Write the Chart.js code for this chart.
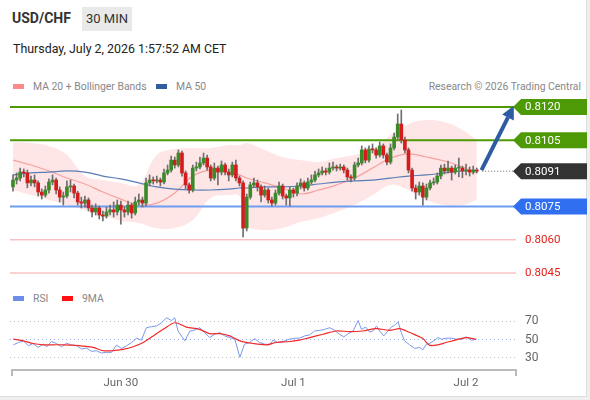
<!DOCTYPE html>
<html>
<head>
<meta charset="utf-8">
<script src="https://cdn.jsdelivr.net/npm/chart.js@4.4.0/dist/chart.umd.min.js"></script>
<style>
  html, body { margin: 0; padding: 0; background: #efefef; }
  body { width: 590px; height: 400px; position: relative; overflow: hidden; font-family: Roboto, "Liberation Sans", Arial, sans-serif; }
  #panel { position: absolute; left: 0; top: 0; width: 586px; height: 396px; background: #fff; border-right: 1px solid #ddd; border-bottom: 1px solid #ddd; }
  #pair { position: absolute; left: 12px; top: 10px; font-size: 14px; font-weight: bold; color: #333; }
  #tf { position: absolute; left: 82px; top: 7px; width: 50px; height: 24px; line-height: 24px; background: #e9e9e9; color: #333; font-size: 13px; text-align: center; }
  #date { position: absolute; left: 13px; top: 41px; font-size: 12.4px; color: #222; }
  .legend { position: absolute; font-size: 10.4px; color: #888; white-space: nowrap; }
  .sw { display: inline-block; width: 11px; height: 5px; vertical-align: middle; margin-right: 9px; position: relative; top: -1px; }
  #mainBox { position: absolute; left: 0; top: 95px; width: 590px; height: 190px; }
  #rsiBox { position: absolute; left: 0; top: 300px; width: 590px; height: 95px; }
</style>
</head>
<body>
<div id="panel">
  <div id="pair">USD/CHF</div>
  <div id="tf">30 MIN</div>
  <div id="date">Thursday, July 2, 2026 1:57:52 AM CET</div>
  <div class="legend" style="left:13px; top:80px;"><span class="sw" style="background:#ff8a8a"></span>MA 20 + Bollinger Bands</div>
  <div class="legend" style="left:156px; top:80px;"><span class="sw" style="background:#2f5ea0"></span>MA 50</div>
  <div class="legend" style="right:5px; top:80px;">Research © 2026 Trading Central</div>
  <div class="legend" style="left:13px; top:292px;"><span class="sw" style="background:#6d8ee8"></span>RSI</div>
  <div class="legend" style="left:62px; top:292px;"><span class="sw" style="background:#ff1010"></span>9MA</div>
</div>
<div id="mainBox"><canvas id="mainChart"></canvas></div>
<div id="rsiBox"><canvas id="rsiChart"></canvas></div>

<script>
// 30 min candles, index 0 = first visible bar, Jun 30 00:00 = 30, Jul 1 = 78, Jul 2 = 126
const opens = [
  0.80839,0.80870,0.80879,0.80906,0.80902,0.80857,0.80870,0.80857,0.80816,0.80802,
  0.80825,0.80861,0.80870,0.80825,0.80793,0.80798,0.80839,0.80843,0.80811,0.80771,
  0.80766,0.80780,0.80744,0.80726,0.80744,0.80712,0.80707,0.80726,0.80735,0.80726,
  0.80757,0.80735,0.80726,0.80757,0.80721,0.80771,0.80780,0.80766,0.80857,0.80870,
  0.80866,0.80870,0.80861,0.80902,0.80915,0.80960,0.80938,0.80992,0.80902,0.80848,
  0.80825,0.80924,0.80929,0.80947,0.80969,0.80929,0.80879,0.80924,0.80906,0.80938,
  0.80906,0.80893,0.80938,0.80879,0.80857,0.80653,0.80793,0.80848,0.80857,0.80839,
  0.80802,0.80825,0.80780,0.80766,0.80811,0.80843,0.80798,0.80789,0.80825,0.80811,
  0.80843,0.80857,0.80834,0.80861,0.80870,0.80893,0.80902,0.80911,0.80906,0.80924,
  0.80929,0.80924,0.80929,0.80915,0.80884,0.80879,0.80938,0.80947,0.81006,0.80960,
  0.81010,0.81006,0.80983,0.81024,0.80983,0.80951,0.81015,0.81064,0.81123,0.81051,
  0.81006,0.80915,0.80834,0.80816,0.80843,0.80793,0.80834,0.80857,0.80861,0.80888,
  0.80924,0.80911,0.80924,0.80906,0.80924,0.80924,0.80911,0.80915,0.80906,0.80915
];
const highs = [
  0.80893,0.80902,0.80924,0.80920,0.80915,0.80888,0.80893,0.80866,0.80830,0.80843,
  0.80875,0.80893,0.80879,0.80839,0.80816,0.80866,0.80870,0.80852,0.80820,0.80793,
  0.80798,0.80789,0.80757,0.80762,0.80753,0.80730,0.80748,0.80757,0.80771,0.80780,
  0.80775,0.80748,0.80775,0.80766,0.80793,0.80807,0.80793,0.80879,0.80893,0.80884,
  0.80888,0.80879,0.80920,0.80938,0.80978,0.80974,0.81006,0.81001,0.80911,0.80857,
  0.80938,0.80951,0.80974,0.80992,0.80983,0.80938,0.80947,0.80933,0.80956,0.80947,
  0.80920,0.80951,0.80960,0.80888,0.80866,0.80807,0.80861,0.80879,0.80870,0.80848,
  0.80843,0.80834,0.80793,0.80825,0.80861,0.80852,0.80807,0.80839,0.80834,0.80857,
  0.80875,0.80866,0.80879,0.80893,0.80911,0.80920,0.80929,0.80924,0.80947,0.80951,
  0.80938,0.80942,0.80938,0.80924,0.80893,0.80951,0.80969,0.81024,0.81015,0.81024,
  0.81033,0.81015,0.81042,0.81033,0.80992,0.81033,0.81082,0.81168,0.81186,0.81064,
  0.81015,0.80924,0.80848,0.80861,0.80857,0.80852,0.80870,0.80879,0.80902,0.80938,
  0.80942,0.80956,0.80933,0.80938,0.80969,0.80933,0.80942,0.80929,0.80933,0.80924
];
const lows = [
  0.80820,0.80852,0.80866,0.80884,0.80835,0.80843,0.80839,0.80798,0.80784,0.80793,
  0.80811,0.80848,0.80807,0.80771,0.80757,0.80789,0.80816,0.80789,0.80757,0.80744,
  0.80748,0.80730,0.80703,0.80712,0.80694,0.80685,0.80698,0.80712,0.80703,0.80712,
  0.80671,0.80703,0.80712,0.80698,0.80712,0.80757,0.80748,0.80753,0.80843,0.80852,
  0.80857,0.80843,0.80852,0.80893,0.80906,0.80924,0.80929,0.80888,0.80830,0.80811,
  0.80816,0.80911,0.80920,0.80938,0.80915,0.80866,0.80870,0.80848,0.80893,0.80893,
  0.80866,0.80884,0.80866,0.80843,0.80613,0.80640,0.80784,0.80839,0.80820,0.80771,
  0.80793,0.80766,0.80753,0.80757,0.80802,0.80784,0.80757,0.80753,0.80793,0.80798,
  0.80830,0.80820,0.80825,0.80852,0.80861,0.80884,0.80893,0.80893,0.80897,0.80915,
  0.80911,0.80915,0.80902,0.80870,0.80861,0.80870,0.80929,0.80938,0.80947,0.80951,
  0.80992,0.80969,0.80974,0.80969,0.80938,0.80942,0.81006,0.81055,0.81037,0.80992,
  0.80902,0.80820,0.80784,0.80802,0.80757,0.80780,0.80825,0.80848,0.80852,0.80875,
  0.80897,0.80902,0.80870,0.80897,0.80884,0.80880,0.80893,0.80888,0.80897,0.80902
];
const closes = [
  0.80870,0.80879,0.80906,0.80902,0.80857,0.80870,0.80857,0.80816,0.80802,0.80825,
  0.80861,0.80870,0.80825,0.80793,0.80798,0.80839,0.80843,0.80811,0.80771,0.80766,
  0.80780,0.80744,0.80726,0.80744,0.80712,0.80707,0.80726,0.80735,0.80726,0.80757,
  0.80735,0.80726,0.80757,0.80721,0.80771,0.80780,0.80766,0.80857,0.80870,0.80866,
  0.80870,0.80861,0.80902,0.80915,0.80960,0.80938,0.80992,0.80902,0.80848,0.80825,
  0.80924,0.80929,0.80947,0.80969,0.80929,0.80879,0.80924,0.80906,0.80938,0.80906,
  0.80893,0.80938,0.80879,0.80857,0.80653,0.80793,0.80848,0.80857,0.80839,0.80802,
  0.80825,0.80780,0.80766,0.80811,0.80843,0.80798,0.80789,0.80825,0.80811,0.80843,
  0.80857,0.80834,0.80861,0.80870,0.80893,0.80902,0.80911,0.80906,0.80924,0.80929,
  0.80924,0.80929,0.80915,0.80884,0.80879,0.80938,0.80947,0.81006,0.80960,0.81010,
  0.81006,0.80983,0.81024,0.80983,0.80951,0.81015,0.81064,0.81123,0.81051,0.81006,
  0.80915,0.80834,0.80816,0.80843,0.80793,0.80834,0.80857,0.80861,0.80888,0.80924,
  0.80911,0.80924,0.80906,0.80924,0.80924,0.80911,0.80915,0.80906,0.80915,0.80910
];

// indicator readings, sampled at these bar indices
const indIdx  = [0,5,10,15,20,25,30,35,40,45,50,55,60,63,65,70,75,80,85,90,95,100,105,110,115,120,125,129];
const ma20    = [0.80960,0.80938,0.80911,0.80879,0.80852,0.80816,0.80784,0.80757,0.80766,0.80811,0.80888,0.80915,0.80906,0.80893,
                 0.80879,0.80857,0.80834,0.80807,0.80825,0.80848,0.80879,0.80924,0.80969,0.80988,0.80974,0.80956,0.80929,0.80902];
const ma50    = [0.80893,0.80902,0.80906,0.80911,0.80906,0.80888,0.80875,0.80857,0.80839,0.80829,0.80825,0.80825,0.80829,0.80834,
                 0.80834,0.80839,0.80839,0.80843,0.80852,0.80861,0.80866,0.80870,0.80879,0.80888,0.80893,0.80902,0.80911,0.80915];
const bbUpper = [0.81042,0.81037,0.81024,0.80983,0.80888,0.80870,0.80857,0.80848,0.80983,0.81010,0.81015,0.81015,0.81028,0.81028,
                 0.81037,0.81006,0.80974,0.80960,0.80951,0.80969,0.80983,0.81006,0.81073,0.81123,0.81141,0.81132,0.81096,0.81051];
const bbLower = [0.80825,0.80802,0.80780,0.80757,0.80735,0.80712,0.80685,0.80676,0.80653,0.80653,0.80689,0.80789,0.80802,0.80798,
                 0.80667,0.80644,0.80653,0.80680,0.80698,0.80726,0.80757,0.80802,0.80848,0.80825,0.80780,0.80757,0.80757,0.80780];

const rsiIdx = [0.1,1.5,2.9,4.3,5.6,7.0,8.4,9.4,10.7,12.1,13.5,14.9,16.3,17.7,19.1,20.5,21.9,23.2,24.6,26.0,
                27.4,28.8,30.2,31.6,33.0,34.4,35.7,37.1,38.5,39.9,41.3,42.7,44.1,45.0,45.9,47.8,49.2,50.6,51.9,53.3,
                54.7,56.1,57.5,58.9,60.3,61.7,63.1,64.4,65.8,67.2,68.6,70.0,71.4,72.3,73.7,75.1,76.9,78.3,79.7,81.1,
                82.5,83.9,85.3,86.7,88.1,89.5,90.8,92.0,93.2,94.6,96.0,96.9,98.1,99.2,100.1,101.1,102.0,103.1,104.3,105.2,
                106.1,107.1,108.0,108.9,110.3,111.7,113.1,114.0,115.0,115.9,117.0,118.2,119.2,120.5,121.9,123.3,124.7,126.1,127.5,128.9];
const rsiVals = [43.8,46.4,48.2,42.8,45.3,41.0,44.6,41.7,47.5,45.3,41.7,45.7,43.5,42.8,39.2,40.3,36.7,37.4,34.9,35.6,
                 35.6,43.5,39.9,42.8,46.4,51.1,48.9,62.6,63.7,64.4,68.0,73.4,70.5,73.4,59.0,48.2,59.0,60.1,62.6,57.2,
                 51.8,55.4,57.2,53.6,51.8,50.0,30.2,44.6,46.4,50.7,46.4,44.6,43.9,48.9,46.4,47.5,50.0,51.0,51.2,53.6,
                 54.7,59.0,59.7,60.8,62.6,59.7,55.4,52.5,56.1,59.0,70.5,60.8,63.3,57.9,59.0,64.4,59.0,53.6,59.0,63.3,
                 65.1,69.1,57.2,48.2,43.9,39.9,41.0,38.5,44.6,45.3,48.2,51.8,50.0,51.1,51.1,50.0,50.0,52.5,48.9,50.0];
const rsiMaIdx  = [0.1,2.9,5.6,8.4,11.2,14.0,16.8,19.5,22.3,25.1,27.9,30.6,33.4,36.2,39.0,41.8,45.0,48.2,51.9,54.7,
                   57.5,60.3,63.1,66.8,70.5,73.2,76.9,79.7,82.5,86.2,89.9,93.6,97.3,101.0,104.7,107.5,109.4,112.1,114.0,115.8,
                   117.7,120.5,123.2,126.0,128.8];
const rsiMaVals = [50.0,48.2,45.3,43.9,43.9,43.9,43.5,42.4,41.0,37.4,37.4,38.8,41.7,46.4,53.6,60.8,68.0,63.3,60.8,56.1,
                   56.1,53.6,48.2,45.3,43.9,46.4,47.5,48.9,51.8,55.4,59.0,58.3,59.0,61.5,59.7,61.5,59.0,54.3,50.7,43.5,
                   43.5,46.4,49.3,51.8,50.0];

const resistLevels = [0.8120, 0.8105];
const supportLevels = [0.8075];
const minorLevels = [0.8060, 0.8045];
const lastPrice = 0.8091;
const targetPrice = 0.8120;

const dayTickIdx = [30, 78, 126];
const dayTickLabels = ["Jun 30", "Jul 1", "Jul 2"];
const rsiTicks = [30, 50, 70];

const X_MIN = -0.83, X_MAX = 139.9;
const GREEN = "#4d9a06", BLUE = "#2f6ff0", DARK = "#333333";
const FONT = 'Roboto, "Liberation Sans", Arial, sans-serif';

Chart.defaults.font.family = FONT;
Chart.defaults.animation = false;

function pts(xs, ys) {
  return xs.map((x, k) => ({ x: x, y: ys[k] }));
}

function levelSet(value, color, width) {
  return {
    type: "line",
    data: [{ x: X_MIN, y: value }, { x: X_MAX, y: value }],
    borderColor: color,
    borderWidth: width,
    pointRadius: 0,
    order: 12
  };
}

const candleX = closes.map((c, i) => i);

function drawTag(ctx, y, bg, text) {
  ctx.fillStyle = bg;
  ctx.beginPath();
  ctx.moveTo(513, y);
  ctx.lineTo(521, y - 8);
  ctx.lineTo(587, y - 8);
  ctx.lineTo(587, y + 8);
  ctx.lineTo(521, y + 8);
  ctx.closePath();
  ctx.fill();
  ctx.fillStyle = "#fff";
  ctx.font = "11.5px " + FONT;
  ctx.textBaseline = "middle";
  ctx.fillText(text, 525, y + 0.5);
}

const tagsPlugin = {
  id: "tags",
  afterDraw(chart) {
    const ctx = chart.ctx;
    const xs = chart.scales.x, ys = chart.scales.y;
    ctx.save();

    // dotted line from the last bar to its price tag
    const yl = ys.getPixelForValue(lastPrice);
    ctx.strokeStyle = "#666";
    ctx.lineWidth = 1;
    ctx.setLineDash([1, 2]);
    ctx.beginPath();
    ctx.moveTo(xs.getPixelForValue(130.5), yl);
    ctx.lineTo(513, yl);
    ctx.stroke();
    ctx.setLineDash([]);

    // target arrow
    const x0 = xs.getPixelForValue(130.3), y0 = ys.getPixelForValue(0.80915);
    const x1 = xs.getPixelForValue(139.3), y1 = ys.getPixelForValue(targetPrice + 0.00005);
    const ang = Math.atan2(y1 - y0, x1 - x0);
    const head = 13;
    const bx = x1 - head * Math.cos(ang), by = y1 - head * Math.sin(ang);
    ctx.strokeStyle = "#2d5ca3";
    ctx.fillStyle = "#2d5ca3";
    ctx.lineWidth = 4;
    ctx.beginPath();
    ctx.moveTo(x0, y0);
    ctx.lineTo(bx, by);
    ctx.stroke();
    ctx.beginPath();
    ctx.moveTo(x1, y1);
    ctx.lineTo(bx + 6.5 * Math.sin(ang), by - 6.5 * Math.cos(ang));
    ctx.lineTo(bx - 6.5 * Math.sin(ang), by + 6.5 * Math.cos(ang));
    ctx.closePath();
    ctx.fill();

    resistLevels.forEach(v => drawTag(ctx, ys.getPixelForValue(v), GREEN, v.toFixed(4)));
    supportLevels.forEach(v => drawTag(ctx, ys.getPixelForValue(v), BLUE, v.toFixed(4)));
    drawTag(ctx, yl, DARK, lastPrice.toFixed(4));

    ctx.fillStyle = "#e3201b";
    ctx.font = "11.5px " + FONT;
    ctx.textBaseline = "middle";
    minorLevels.forEach(v => ctx.fillText(v.toFixed(4), 525, ys.getPixelForValue(v) + 0.5));
    ctx.restore();
  }
};

new Chart(document.getElementById("mainChart"), {
  type: "line",
  data: {
    datasets: [
      {
        data: pts(indIdx, bbUpper),
        borderWidth: 0,
        pointRadius: 0,
        tension: 0.4,
        fill: "+1",
        backgroundColor: "rgba(255, 200, 200, 0.45)",
        order: 20
      },
      {
        data: pts(indIdx, bbLower),
        borderWidth: 0,
        pointRadius: 0,
        tension: 0.4,
        fill: false,
        order: 21
      },
      {
        data: pts(indIdx, ma20),
        borderColor: "#f6a0a0",
        borderWidth: 1.2,
        pointRadius: 0,
        tension: 0.4,
        order: 15
      },
      {
        data: pts(indIdx, ma50),
        borderColor: "#5a7db5",
        borderWidth: 1.2,
        pointRadius: 0,
        tension: 0.4,
        order: 14
      },
      ...resistLevels.map(v => levelSet(v, GREEN, 2)),
      ...supportLevels.map(v => levelSet(v, "#6f9cf2", 2)),
      ...minorLevels.map(v => levelSet(v, "#f4a5a5", 1)),
      {
        type: "bar",
        data: candleX.map(i => ({ x: i, y: [lows[i], highs[i]] })),
        backgroundColor: "#6e6e6e",
        barThickness: 1,
        grouped: false,
        order: 2
      },
      {
        type: "bar",
        data: candleX.map(i => ({ x: i, y: [opens[i], closes[i]] })),
        backgroundColor: candleX.map(i => closes[i] >= opens[i] ? "#3a8a2a" : "#d41c1c"),
        barThickness: 3,
        minBarLength: 1,
        grouped: false,
        order: 1
      }
    ]
  },
  options: {
    responsive: true,
    maintainAspectRatio: false,
    layout: { padding: { left: 10, right: 74, top: 0, bottom: 0 } },
    plugins: { legend: { display: false }, tooltip: { enabled: false } },
    scales: {
      x: { type: "linear", min: X_MIN, max: X_MAX, offset: false, display: false },
      y: { type: "linear", min: 0.80396, max: 0.81254, display: false }
    }
  },
  plugins: [tagsPlugin]
});

// RSI pane: guides, axis and labels positioned through the chart's own scales
const rsiAxesPlugin = {
  id: "rsiAxes",
  beforeDatasetsDraw(chart) {
    const ctx = chart.ctx, a = chart.chartArea, ys = chart.scales.y;
    ctx.save();
    ctx.lineWidth = 1;
    ctx.setLineDash([1, 3]);
    rsiTicks.forEach(v => {
      const y = Math.round(ys.getPixelForValue(v)) + 0.5;
      ctx.strokeStyle = v === 50 ? "#9cb0e6" : "#bdbdbd";
      ctx.beginPath();
      ctx.moveTo(a.left, y);
      ctx.lineTo(a.right, y);
      ctx.stroke();
    });
    ctx.restore();
  },
  afterDraw(chart) {
    const ctx = chart.ctx, a = chart.chartArea, xs = chart.scales.x, ys = chart.scales.y;
    ctx.save();
    ctx.fillStyle = "#666";
    ctx.font = "12px " + FONT;
    ctx.textBaseline = "middle";
    ctx.textAlign = "left";
    rsiTicks.forEach(v => ctx.fillText(String(v), a.right + 9, ys.getPixelForValue(v) + 0.5));

    ctx.strokeStyle = "#bbb";
    ctx.lineWidth = 2;
    ctx.beginPath();
    ctx.moveTo(a.left + 2, a.bottom + 6);
    ctx.lineTo(a.left + 2, a.bottom);
    ctx.lineTo(a.right, a.bottom);
    ctx.lineTo(a.right, a.bottom + 6);
    ctx.stroke();

    ctx.font = "11.5px " + FONT;
    ctx.textAlign = "center";
    dayTickIdx.forEach((v, k) => ctx.fillText(dayTickLabels[k], xs.getPixelForValue(v), a.bottom + 13));
    ctx.restore();
  }
};

new Chart(document.getElementById("rsiChart"), {
  type: "line",
  data: {
    datasets: [
      {
        label: "9MA",
        data: pts(rsiMaIdx, rsiMaVals),
        borderColor: "#f22a2a",
        borderWidth: 1.2,
        pointRadius: 0,
        tension: 0.3
      },
      {
        label: "RSI",
        data: pts(rsiIdx, rsiVals),
        borderColor: "#7b97ea",
        borderWidth: 1,
        pointRadius: 0,
        tension: 0
      }
    ]
  },
  options: {
    responsive: true,
    maintainAspectRatio: false,
    layout: { padding: { left: 10, right: 74, top: 0, bottom: 25 } },
    plugins: { legend: { display: false }, tooltip: { enabled: false } },
    scales: {
      x: { type: "linear", min: X_MIN, max: X_MAX, offset: false, display: false },
      y: { type: "linear", min: 16.3, max: 92.9, display: false }
    }
  },
  plugins: [rsiAxesPlugin]
});
</script>
</body>
</html>
